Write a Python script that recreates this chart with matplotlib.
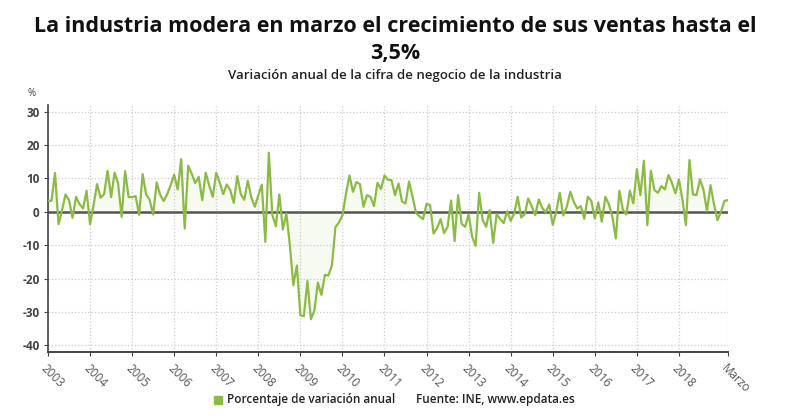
import numpy as np
import matplotlib
matplotlib.use("Agg")
import matplotlib.pyplot as plt
from matplotlib.patches import Rectangle

plt.rcParams['font.family'] = ['Open Sans', 'DejaVu Sans']

# monthly values, Jan 2003 .. Mar 2019 (% annual change)
v2003 = [3.3, 3.3, 11.6, -3.7, 0.5, 5.2, 3.5, -1.8, 4.5, 2.3, 1.0, 6.3]
v2004 = [-3.7, 2.0, 8.3, 4.2, 5.3, 12.3, 4.4, 11.7, 8.5, -1.5, 12.2, 4.4]
v2005 = [4.4, 4.7, -0.9, 11.3, 5.2, 3.6, -0.8, 8.8, 5.1, 3.2, 5.3, 8.0]
v2006 = [11.1, 6.7, 15.8, -5.0, 13.8, 11.4, 8.6, 10.5, 3.5, 11.7, 7.8, 4.5]
v2007 = [11.7, 8.7, 5.3, 8.2, 6.5, 2.7, 10.7, 5.3, 3.6, 9.3, 4.3, 1.5]
v2008 = [5.0, 8.1, -9.0, 17.7, -1.0, -4.3, 5.2, -5.3, -0.5, -10.0, -22.0, -16.1]
v2009 = [-31.0, -31.3, -20.7, -32.2, -29.6, -21.2, -24.9, -18.9, -19.1, -16.1, -4.6, -3.2]
v2010 = [-1.1, 5.3, 10.9, 6.0, 8.9, 8.3, 1.5, 5.0, 4.5, 1.7, 8.7, 6.8]
v2011 = [10.9, 9.6, 9.5, 5.0, 8.5, 3.1, 2.5, 9.1, 4.5, -0.3, -1.4, -2.2]
v2012 = [2.4, 2.0, -6.5, -4.9, -2.2, -6.4, -4.5, 3.4, -8.8, 5.0, -3.6, -4.5]
v2013 = [-0.8, -7.5, -10.2, 5.7, -2.5, -4.5, 0.5, -9.3, -0.7, -2.2, -3.4, 0.2]
v2014 = [-2.7, -0.5, 4.5, -1.7, -0.7, 4.0, 1.7, -1.0, 3.7, 1.2, -0.2, 2.2]
v2015 = [-3.9, 0.0, 5.7, -1.1, 1.5, 6.0, 3.0, 1.0, 1.7, -2.1, 4.5, 3.3]
v2016 = [-2.0, 2.8, -3.0, 4.5, 2.3, -1.5, -8.0, 6.3, 0.7, -0.8, 6.3, 2.5]
v2017 = [12.8, 5.0, 15.3, -4.0, 12.3, 6.5, 5.7, 7.7, 6.7, 11.0, 8.7, 5.5]
v2018 = [9.7, 3.7, -4.0, 15.5, 5.2, 5.0, 9.7, 6.7, 0.2, 8.0, 2.3, -2.5]
v2019 = [0.0, 3.3, 3.5]

values = np.array(v2003 + v2004 + v2005 + v2006 + v2007 + v2008 + v2009 + v2010
                  + v2011 + v2012 + v2013 + v2014 + v2015 + v2016 + v2017 + v2018 + v2019)
years = list(range(2003, 2019))
tick_labels = [str(y) for y in years] + ['Marzo']

green = '#8cbb45'
x = np.arange(len(values))

fig = plt.figure(figsize=(7.9, 4.2), dpi=100)
ax = fig.add_axes([48 / 790, 1 - 352 / 420, 680 / 790, 247 / 420])

ax.fill_between(x, values, 0, color=green, alpha=0.07, lw=0)
ax.plot(x, values, color=green, lw=1.6, zorder=3)
ax.axhline(0, color='#555555', lw=1.8, zorder=2)

ax.set_xlim(0, len(values) - 1)
ax.set_ylim(-42, 32)
ax.set_yticks(np.arange(-40, 31, 10))
ax.set_yticklabels([str(t) for t in range(-40, 31, 10)], fontsize=8.5, fontweight='bold', color='#444444')
xt = [12 * i for i in range(len(years))] + [len(values) - 1]
ax.set_xticks(xt)
ax.set_xticklabels(tick_labels, rotation=-45, ha='left', va='top', rotation_mode='anchor',
                   fontsize=8.5, color='#555555')
ax.tick_params(axis='x', length=3, color='#444444', pad=4)
ax.tick_params(axis='y', length=3, color='#444444', pad=3)
ax.grid(True, color='#cccccc', ls=':', lw=0.9)
ax.set_axisbelow(True)
for s in ['top', 'right']:
    ax.spines[s].set_visible(False)
ax.spines['left'].set_color('#444444')
ax.spines['bottom'].set_color('#444444')
ax.spines['left'].set_linewidth(1.2)
ax.spines['bottom'].set_linewidth(1.4)

fig.text(0.5, 1 - 27 / 420, 'La industria modera en marzo el crecimiento de sus ventas hasta el',
         ha='center', va='center', fontsize=15.5, fontweight='bold', color='#111111')
fig.text(0.5, 1 - 53 / 420, '3,5%', ha='center', va='center', fontsize=15.5,
         fontweight='bold', color='#111111')
fig.text(0.5, 1 - 75 / 420, 'Variación anual de la cifra de negocio de la industria',
         ha='center', va='center', fontsize=9.5, fontweight='semibold', color='#222222')
fig.text(28 / 790, 1 - 93 / 420, '%', ha='left', va='center', fontsize=7, color='#444444')

fig.patches.append(Rectangle((214 / 790, 1 - 404 / 420), 8 / 790, 8 / 420,
                             transform=fig.transFigure, color=green))
fig.text(227 / 790, 1 - 400 / 420, 'Porcentaje de variación anual', ha='left', va='center',
         fontsize=8.5, fontweight='semibold', color='#222222')
fig.text(416 / 790, 1 - 400 / 420, 'Fuente: INE, www.epdata.es', ha='left', va='center',
         fontsize=8.5, fontweight='semibold', color='#222222')

fig.savefig('out.png', dpi=100)
